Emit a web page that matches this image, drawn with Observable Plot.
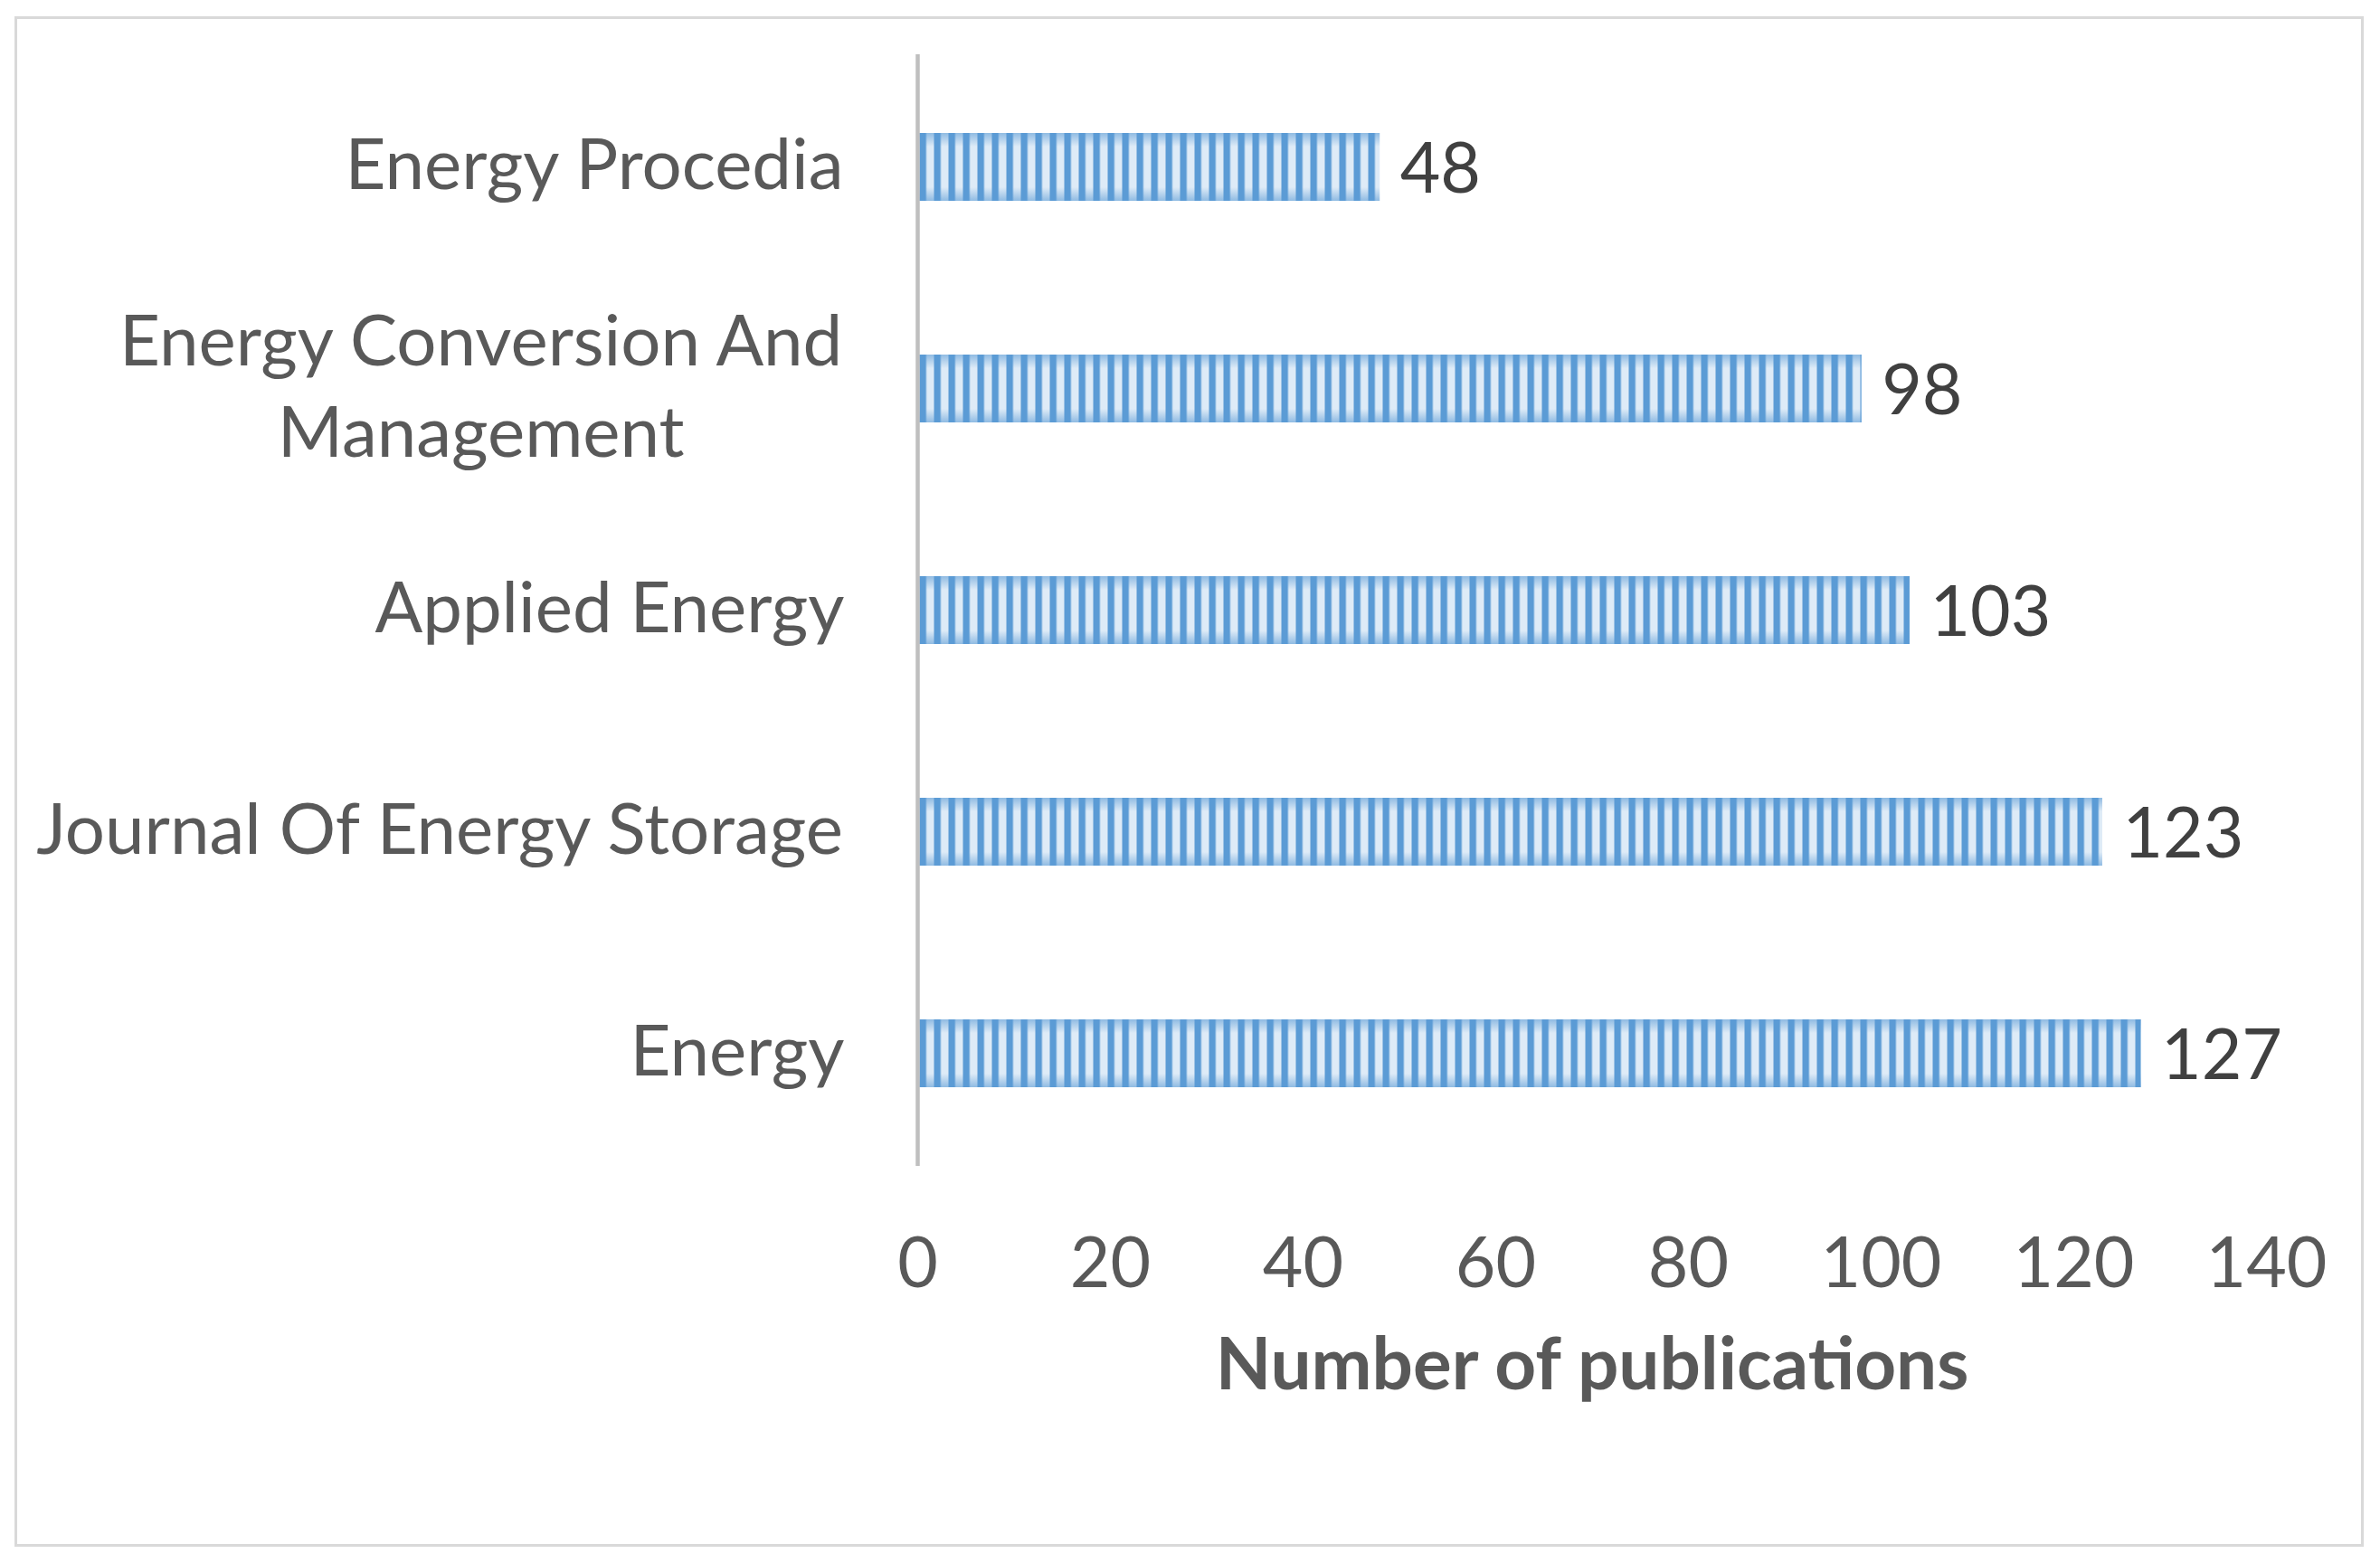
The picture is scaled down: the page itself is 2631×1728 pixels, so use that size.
<!DOCTYPE html>
<html>
<head>
<meta charset="utf-8">
<script src="https://cdn.jsdelivr.net/npm/d3@7"></script>
<script src="https://cdn.jsdelivr.net/npm/@observablehq/plot@0.6"></script>
<style>
  html, body { margin: 0; padding: 0; background: #ffffff; }
  #chart svg { display: block; }
</style>
</head>
<body>
<div id="chart"></div>
<script>
// ---- data ----
const categories = [
  "Energy Procedia",
  "Energy Conversion And\nManagement",
  "Applied Energy",
  "Journal Of Energy Storage",
  "Energy"
];
const values = [48, 98, 103, 123, 127];
const xTicks = [0, 20, 40, 60, 80, 100, 120, 140];
const xTitle = "Number of publications";

const data = categories.map((c, i) => ({journal: c, count: values[i]}));

// ---- styling ----
const FONT = "Lato";
const FS = 77;
const CAT_FS = 78;
const labelGap = 81;

const ctx = document.createElement("canvas").getContext("2d");
ctx.font = `${CAT_FS}px ${FONT}`;
const maxLineWidth = s => Math.max(...s.split("\n").map(l => ctx.measureText(l).width));

const chart = Plot.plot({
  width: 2631,
  height: 1728,
  marginLeft: 1014,
  marginRight: 126,
  marginTop: 60,
  marginBottom: 439,
  style: {fontFamily: FONT, background: "#ffffff", color: "#595959", overflow: "visible"},
  x: {domain: [0, 140]},
  y: {domain: categories, paddingInner: 0.695, paddingOuter: 0.3475, axis: null},
  marks: [
    Plot.barX(data, {x: "count", y: "journal", fill: "url(#stripes)"}),
    Plot.barX(data, {x: "count", y: "journal", fill: "url(#edgeShade)"}),
    Plot.ruleX([0], {stroke: "#bfbfbf", strokeWidth: 4.5}),
    Plot.axisX({ticks: xTicks, tickSize: 0, tickPadding: 79, fontSize: FS, label: null}),
    Plot.text(data, {
      x: "count", y: "journal", text: d => String(d.count),
      dx: 22, dy: 3, textAnchor: "start", fontSize: FS, fill: "#404040"
    }),
    ...categories.map(c => Plot.text([c], {
      y: d => d, text: d => d, frameAnchor: "left", textAnchor: "middle", lineAnchor: "middle",
      dx: -(labelGap + maxLineWidth(c) / 2), dy: -8, fontSize: CAT_FS, lineHeight: 1.3, fill: "#595959"
    })),
    Plot.text([xTitle], {
      frameAnchor: "bottom", lineAnchor: "middle", dy: 221, fontSize: 80, fontWeight: "bold", fill: "#595959"
    })
  ]
});

const svg = d3.select(chart);
const defs = svg.insert("defs", ":first-child");
const pat = defs.append("pattern")
  .attr("id", "stripes")
  .attr("patternUnits", "userSpaceOnUse")
  .attr("x", 1016.5).attr("y", 0)
  .attr("width", 16).attr("height", 16);
pat.append("rect").attr("width", 16).attr("height", 16).attr("fill", "#deebf7");
pat.append("rect").attr("width", 7.4).attr("height", 16).attr("fill", "#5b9bd5");

const grad = defs.append("linearGradient")
  .attr("id", "edgeShade")
  .attr("x1", 0).attr("y1", 0).attr("x2", 0).attr("y2", 1);
[[0, 0.6], [0.2, 0], [0.8, 0], [1, 0.6]].forEach(([o, a]) => {
  grad.append("stop").attr("offset", o).attr("stop-color", "#5b9bd5").attr("stop-opacity", a);
});

svg.append("rect")
  .attr("x", 17.5).attr("y", 19.5)
  .attr("width", 2594).attr("height", 1689)
  .attr("fill", "none").attr("stroke", "#d9d9d9").attr("stroke-width", 3);

document.getElementById("chart").appendChild(chart);
</script>
</body>
</html>
